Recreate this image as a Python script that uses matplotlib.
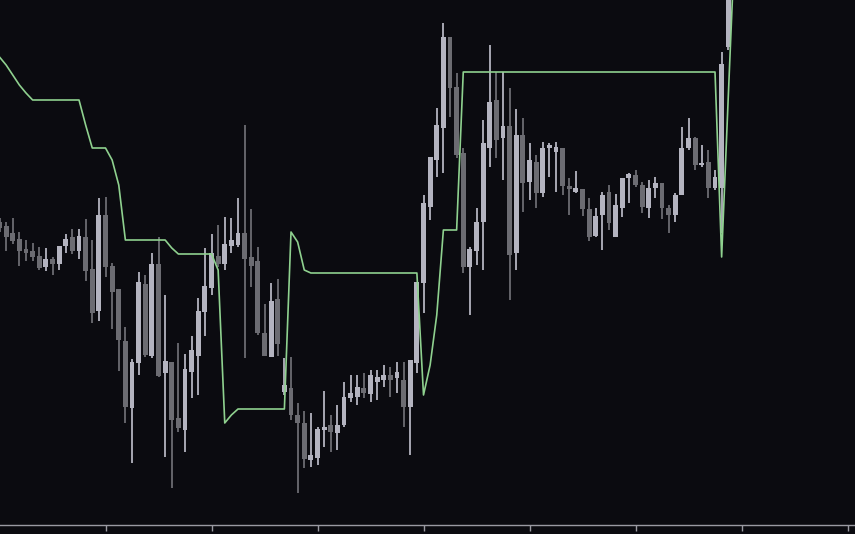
import numpy as np
import matplotlib
matplotlib.use("Agg")
import matplotlib.pyplot as plt

# candle data (bar index 0..110), price units
opens = [303, 299, 292, 286, 276, 274, 269, 258, 266, 261,
         279, 288, 274, 288, 256, 214, 310, 259, 236, 184,
         117, 162, 241, 169, 261, 152, 163, 107, 95, 153,
         169, 213, 237, 269, 261, 279, 280, 292, 268, 264,
         192, 168, 226, 133, 137, 110, 102, 65, 67, 95,
         100, 92, 100, 127, 128, 137, 131, 143, 145, 150,
         147, 145, 118, 162, 242, 318, 365, 397, 488, 438,
         372, 258, 274, 303, 377, 425, 387, 399, 272, 390,
         343, 363, 332, 377, 373, 377, 339, 333, 336, 316,
         289, 310, 333, 288, 317, 347, 350, 340, 317, 337,
         342, 317, 310, 330, 377, 387, 360, 363, 337, 337,
         478]
highs = [307, 303, 307, 293, 285, 282, 278, 277, 268, 279,
         291, 296, 296, 306, 285, 327, 328, 262, 236, 198,
         166, 253, 250, 272, 288, 230, 163, 182, 171, 189,
         227, 277, 291, 300, 308, 307, 327, 400, 316, 278,
         221, 242, 246, 167, 168, 122, 114, 112, 98, 134,
         110, 120, 143, 150, 150, 152, 155, 155, 160, 158,
         163, 163, 165, 243, 330, 368, 417, 502, 488, 452,
         377, 278, 317, 405, 480, 453, 453, 437, 416, 407,
         382, 370, 383, 382, 383, 377, 347, 354, 336, 327,
         317, 333, 340, 331, 347, 352, 355, 343, 345, 348,
         342, 320, 332, 398, 407, 388, 380, 375, 355, 473,
         545]
lows = [293, 274, 281, 259, 264, 264, 255, 254, 250, 255,
        272, 271, 266, 244, 202, 204, 248, 196, 154, 102,
        62, 150, 168, 167, 148, 68, 37, 93, 73, 127,
        130, 189, 230, 258, 255, 272, 278, 167, 238, 190,
        169, 168, 169, 130, 105, 32, 57, 58, 60, 78,
        73, 75, 98, 123, 120, 127, 123, 125, 138, 128,
        132, 98, 70, 152, 212, 305, 348, 352, 408, 367,
        252, 210, 260, 255, 358, 367, 345, 225, 255, 313,
        325, 317, 328, 348, 333, 330, 310, 332, 309, 284,
        288, 275, 295, 288, 308, 322, 338, 312, 307, 327,
        306, 292, 303, 330, 375, 355, 358, 327, 335, 292,
        475]
closes = [297, 288, 284, 274, 272, 268, 257, 266, 261, 279,
          286, 274, 289, 254, 212, 310, 258, 233, 185, 118,
          163, 243, 170, 261, 149, 164, 105, 97, 156, 175,
          214, 239, 272, 261, 281, 285, 292, 266, 259, 192,
          169, 224, 181, 140, 110, 102, 66, 70, 96, 98,
          93, 100, 128, 132, 138, 132, 150, 148, 150, 145,
          153, 118, 165, 243, 322, 368, 400, 488, 437, 370,
          258, 276, 303, 382, 423, 385, 399, 270, 390, 342,
          365, 332, 377, 380, 378, 339, 336, 337, 316, 288,
          309, 330, 302, 320, 347, 351, 340, 318, 337, 342,
          317, 310, 330, 377, 387, 360, 362, 337, 348, 461,
          535]

# trailing stop line, one value per bar
stop_line = [468, 460, 450, 440, 432, 425, 425, 425, 425, 425,
             425, 425, 425, 400, 377, 377, 377, 365, 340, 285,
             285, 285, 285, 285, 285, 285, 277, 271, 271, 271,
             271, 271, 271, 255, 102, 110, 116, 116, 116, 116,
             116, 116, 116, 116, 293, 283, 255, 252, 252, 252,
             252, 252, 252, 252, 252, 252, 252, 252, 252, 252,
             252, 252, 252, 252, 130, 160, 210, 295, 295, 295,
             453, 453, 453, 453, 453, 453, 453, 453, 453, 453,
             453, 453, 453, 453, 453, 453, 453, 453, 453, 453,
             453, 453, 453, 453, 453, 453, 453, 453, 453, 453,
             453, 453, 453, 453, 453, 453, 453, 453, 453, 268,
             428, 585]

tick_bars = [16, 32, 48, 64, 80, 96, 112, 128]

bg = '#0b0b10'
up_col = '#b4b4c0'
down_col = '#6c6c72'
line_col = '#8fd18f'

fig = plt.figure(figsize=(8.55, 5.34), dpi=100, facecolor=bg)
ax = fig.add_axes([0, 9 / 534, 1, 525 / 534])
ax.set_facecolor(bg)

o = np.array(opens)
h = np.array(highs)
l = np.array(lows)
c = np.array(closes)
x = np.arange(len(o))
cols = [up_col if cc >= oo else down_col for oo, cc in zip(o, c)]

ax.vlines(x, l, h, colors=cols, linewidth=1.3, zorder=2)
body_bottom = np.minimum(o, c)
body_h = np.maximum(np.abs(c - o), 1.5)
ax.bar(x, body_h, bottom=body_bottom, width=0.74, color=cols,
       linewidth=0, zorder=3)

ax.plot(np.arange(len(stop_line)), stop_line, color=line_col,
        linewidth=1.2, zorder=4)

ax.set_xlim(0.075, 129.13)
ax.set_ylim(0, 525)

for s in ['top', 'left', 'right']:
    ax.spines[s].set_visible(False)
ax.spines['bottom'].set_color('#9a9aa2')
ax.spines['bottom'].set_linewidth(1.0)
ax.set_yticks([])
ax.set_xticks(tick_bars)
ax.set_xticklabels([])
ax.tick_params(axis='x', direction='out', length=4, width=1,
               color='#9a9aa2')

fig.savefig('out.png', dpi=100, facecolor=bg)
